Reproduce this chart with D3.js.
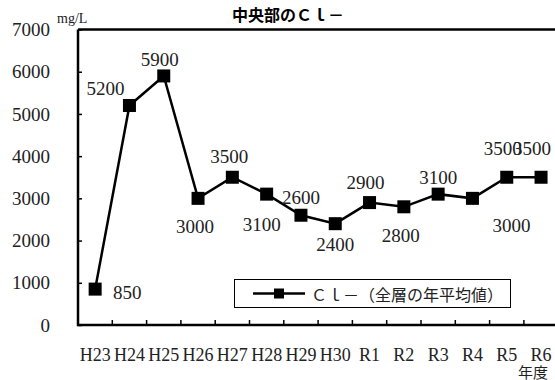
<!DOCTYPE html>
<html>
<head>
<meta charset="utf-8">
<style>
  body { margin: 0; background: #fff; }
  svg text.serif { font-family: "Liberation Serif", "Times New Roman", "DejaVu Serif", serif; }
  svg text.cjk { font-family: "Noto Sans CJK JP", sans-serif; }
</style>
</head>
<body>
<div id="chart"></div>
<script src="https://d3js.org/d3.v7.min.js"></script>
<script>
    const width = 555;
    const height = 380;

    // data
    const years = ["H23", "H24", "H25", "H26", "H27", "H28", "H29", "H30", "R1", "R2", "R3", "R4", "R5", "R6"];
    const clValues = [850, 5200, 5900, 3000, 3500, 3100, 2600, 2400, 2900, 2800, 3100, 3000, 3500, 3500];
    const yTicks = [0, 1000, 2000, 3000, 4000, 5000, 6000, 7000];
    // where each value label sits relative to its marker (dx, dy)
    const labelOffsets = [[32, 3], [-24, -17], [-4, -16], [-3, 28], [-3, -21], [-5, 30], [0, -18],
                          [0, 21], [-4, -20], [-3, 29], [0, -17], [39, 27], [-4, -29], [-9, -29]];

    const plotLeft = 78, plotTop = 29.5, plotBottom = 325, bandW = 34.3;

    const svg = d3.select("#chart")
        .append("svg")
        .attr("width", width)
        .attr("height", height)
        .style("background-color", "#fff");

    const x = d3.scaleBand()
        .domain(years)
        .range([plotLeft, plotLeft + bandW * years.length])
        .paddingInner(0)
        .paddingOuter(0);

    const y = d3.scaleLinear()
        .domain([0, 7000])
        .range([plotBottom, plotTop]);

    // y axis labels + inward ticks
    const yAxis = svg.append("g")
        .attr("transform", `translate(${plotLeft},0)`)
        .call(d3.axisLeft(y).tickValues(yTicks).tickSizeInner(-4).tickSizeOuter(0).tickPadding(28).tickFormat(d3.format("d")));
    yAxis.select(".domain").remove();
    yAxis.selectAll("line").attr("stroke", "#000").attr("stroke-width", 1.5);
    yAxis.selectAll("text")
        .attr("class", "serif")
        .style("font-size", "19px")
        .attr("fill", "#222");

    // x axis labels
    const xAxis = svg.append("g")
        .attr("transform", `translate(0,${plotBottom})`)
        .call(d3.axisBottom(x).tickSize(0));
    xAxis.select(".domain").remove();
    xAxis.selectAll("text")
        .attr("class", "serif")
        .attr("y", 30)
        .attr("dy", "0.35em")
        .style("font-size", "18px")
        .attr("fill", "#222");

    // x ticks on band boundaries, pointing up
    svg.append("g").selectAll("line")
        .data(years.slice(1))
        .join("line")
        .attr("x1", d => x(d))
        .attr("x2", d => x(d))
        .attr("y1", plotBottom)
        .attr("y2", plotBottom - 5)
        .attr("stroke", "#000")
        .attr("stroke-width", 1.5);

    // plot frame (right side falls outside the picture)
    svg.append("path")
        .attr("d", `M${plotLeft},${plotTop}H${width + 10}M${plotLeft},${plotTop}V${plotBottom}H${width + 10}`)
        .attr("fill", "none")
        .attr("stroke", "#000")
        .attr("stroke-width", 2.5);

    const cx = d => x(d) + x.bandwidth() / 2;

    // series line
    svg.append("path")
        .datum(clValues)
        .attr("d", d3.line().x((d, i) => cx(years[i])).y(d => y(d)))
        .attr("fill", "none")
        .attr("stroke", "#000")
        .attr("stroke-width", 2.5);

    // square markers
    svg.append("g").selectAll("rect")
        .data(clValues)
        .join("rect")
        .attr("x", (d, i) => cx(years[i]) - 6.5)
        .attr("y", d => y(d) - 6.5)
        .attr("width", 13)
        .attr("height", 13)
        .attr("fill", "#000");

    // value labels
    svg.append("g").selectAll("text")
        .data(clValues)
        .join("text")
        .attr("class", "serif")
        .attr("x", (d, i) => cx(years[i]) + labelOffsets[i][0])
        .attr("y", (d, i) => y(d) + labelOffsets[i][1])
        .attr("text-anchor", "middle")
        .attr("dominant-baseline", "central")
        .style("font-size", "19px")
        .attr("fill", "#222")
        .text(d => d);

    // title
    svg.append("text")
        .attr("class", "cjk")
        .attr("x", 288)
        .attr("y", 14)
        .attr("text-anchor", "middle")
        .attr("dominant-baseline", "central")
        .style("font-size", "16px")
        .style("font-weight", "bold")
        .attr("fill", "#000")
        .text("中央部のＣｌ－");

    // unit
    svg.append("text")
        .attr("class", "serif")
        .attr("x", 57)
        .attr("y", 18)
        .attr("dominant-baseline", "central")
        .style("font-size", "14px")
        .attr("fill", "#222")
        .text("mg/L");

    svg.append("text")
        .attr("class", "cjk")
        .attr("x", 533)
        .attr("y", 371)
        .attr("text-anchor", "middle")
        .attr("dominant-baseline", "central")
        .style("font-size", "15px")
        .attr("fill", "#222")
        .text("年度");

    // legend
    const legend = svg.append("g");
    legend.append("rect")
        .attr("x", 234.5).attr("y", 279.5)
        .attr("width", 276).attr("height", 28)
        .attr("fill", "#fff")
        .attr("stroke", "#000")
        .attr("stroke-width", 1);
    legend.append("line")
        .attr("x1", 253).attr("x2", 305)
        .attr("y1", 293.5).attr("y2", 293.5)
        .attr("stroke", "#000")
        .attr("stroke-width", 2.5);
    legend.append("rect")
        .attr("x", 274).attr("y", 288.5)
        .attr("width", 10).attr("height", 10)
        .attr("fill", "#000");
    legend.append("text")
        .attr("class", "cjk")
        .attr("x", 311)
        .attr("y", 293.5)
        .attr("dominant-baseline", "central")
        .style("font-size", "16px")
        .attr("fill", "#222")
        .text("Ｃｌ－（全層の年平均値）");
</script>
</body>
</html>
